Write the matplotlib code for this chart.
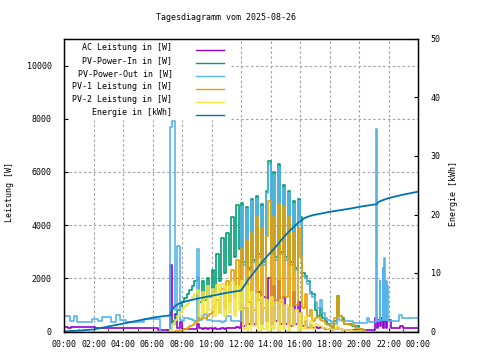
import numpy as np
import matplotlib
matplotlib.use("Agg")
import matplotlib.pyplot as plt

plt.rcParams['font.family'] = ['DejaVu Sans Mono']
FS = 6

# --- Zeitraster tagsueber: 07:00 .. 19:00 alle 10 Minuten (73 Punkte)
t_day = np.arange(7 * 6, 19 * 6 + 1) / 6.0

# AC Leistung [W]
ac_night_t = [0, 0.3, 0.5, 2.1, 2.3, 4.2, 4.4, 6.4]
ac_night = [170, 120, 160, 120, 150, 120, 130, 50]
ac_day = [50, 2500, 300, 650, 150, 350,
          100, 80, 90, 100, 90, 110,
          300, 120, 100, 130, 110, 120,
          100, 120, 110, 100, 120, 110,
          130, 120, 150, 130, 160, 140,
          1000, 200, 900, 300, 1100, 300,
          1200, 1500, 300, 1300, 400, 2000,
          300, 1700, 400, 1900, 300, 1300,
          300, 900, 200, 1500, 300, 1100,
          700, 200, 400, 150, 250, 150,
          180, 150, 160, 120, 100, 90,
          80, 70, 90, 150, 80, 70,
          60]
ac_eve_t = [19.5, 20.5, 21.1, 21.2, 21.3, 21.4, 21.5, 21.6, 21.7, 21.8, 21.9,
            22.2, 22.8, 23.0, 24.0]
ac_eve = [60, 70, 500, 150, 450, 200, 500, 150, 400, 120, 450, 150, 200, 140, 140]

# PV-Power-In [W]
pin_night_t = [0, 6.9]
pin_night = [0, 0]
pin_day = [0, 100, 400, 600, 800, 950,
           1100, 1250, 1400, 1550, 1700, 1900,
           2050, 1100, 1900, 1200, 2000, 1300,
           2300, 1500, 2900, 1900, 3500, 2200,
           3700, 2500, 4300, 2800, 4750, 3100,
           4850, 2600, 4700, 2400, 5000, 2700,
           5100, 2900, 4800, 2600, 5300, 6400,
           3000, 6000, 2800, 6300, 3000, 5500,
           2800, 5300, 2600, 4900, 2400, 5000,
           4300, 2200, 2100, 1900, 1500, 1400,
           800, 600, 900, 500, 400, 300,
           200, 120, 400, 1320, 600, 520,
           300]
pin_eve_t = [19.5, 20.0, 20.3, 20.4, 24.0]
pin_eve = [200, 100, 30, 0, 0]

# PV-Power-Out [W]
pout_night_t = [0, 0.4, 0.7, 0.9, 1.7, 1.9, 2.3, 2.6, 3.2, 3.5, 3.8, 4.2, 5.4, 6.5]
pout_night = [600, 380, 580, 350, 350, 480, 380, 560, 360, 620, 420, 350, 470, 0]
pout_day = [0, 7700, 7900, 800, 3200, 450,
            400, 500, 520, 480, 420, 400,
            3100, 450, 600, 650, 450, 420,
            400, 400, 380, 380, 350, 380,
            600, 600, 400, 400, 380, 380,
            4700, 2500, 4600, 2300, 4900, 2600,
            5000, 2800, 4700, 2500, 5200, 6300,
            2900, 5900, 2700, 6200, 2900, 5400,
            2700, 5200, 2500, 4800, 2300, 4900,
            4200, 2100, 2000, 1800, 1400, 1300,
            1100, 900, 1200, 700, 500, 420,
            380, 300, 290, 500, 420, 400,
            400]
pout_eve_t = [19.4, 19.6, 20.55, 20.7, 21.10, 21.17, 21.23, 21.40, 21.45, 21.60,
              21.63, 21.68, 21.73, 21.83, 21.88, 21.93, 21.98, 22.7, 22.9, 23.1, 24.0]
pout_eve = [400, 330, 520, 340, 350, 7600, 400, 1900, 450, 2400,
            450, 2750, 450, 1900, 450, 1700, 400, 630, 520, 490, 490]

# PV-1 Leistung [W]
pv1_night_t = [0, 6.9]
pv1_night = [0, 0]
pv1_day = [0, 0, 0, 10, 20, 40,
           60, 100, 150, 200, 260, 320,
           400, 470, 500, 520, 580, 650,
           750, 950, 1200, 700, 1600, 900,
           1900, 1100, 2300, 1300, 2700, 1500,
           3100, 900, 3400, 1100, 3700, 800,
           4300, 1200, 3900, 900, 3600, 4900,
           1000, 4300, 1200, 4800, 1100, 4700,
           1300, 4300, 900, 3700, 1000, 3900,
           2800, 900, 1400, 600, 800, 400,
           500, 550, 420, 380, 300, 250,
           200, 160, 500, 1290, 600, 400,
           300]
pv1_eve_t = [19.3, 19.7, 20.0, 20.3, 20.4, 24.0]
pv1_eve = [250, 150, 80, 50, 0, 0]

# PV-2 Leistung [W]
pv2_night_t = [0, 6.9]
pv2_night = [0, 0]
pv2_day = [0, 50, 300, 450, 600, 750,
           850, 950, 1050, 1200, 1300, 1400,
           1550, 600, 1500, 700, 1700, 800,
           1600, 600, 1750, 700, 1800, 600,
           1700, 700, 1850, 600, 1700, 800,
           1900, 100, 1700, 0, 1500, 200,
           1400, 0, 1300, 100, 1200, 0,
           1300, 100, 1100, 0, 1200, 100,
           1000, 0, 900, 200, 800, 0,
           700, 100, 600, 100, 400, 100,
           300, 250, 200, 150, 120, 100,
           80, 70, 80, 200, 100, 60,
           40]
pv2_eve_t = [19.5, 20.0, 20.2, 24.0]
pv2_eve = [30, 20, 0, 0]

# Energie [kWh]
en_t = [0, 0.5, 1, 1.5, 2, 2.5, 3, 3.5, 4, 4.5, 5, 5.5, 6, 6.5, 7, 7.2, 7.3, 7.5,
        7.75, 8, 8.5, 9, 9.5, 10, 10.5, 11, 11.5, 12, 12.25, 12.5, 12.75, 13,
        13.25, 13.5, 13.75, 14, 14.25, 14.5, 14.75, 15, 15.25, 15.5, 15.75, 16,
        16.25, 16.5, 16.75, 17, 17.5, 18, 18.5, 19, 19.5, 20, 20.5, 21, 21.2,
        21.3, 21.5, 22, 22.5, 23, 23.5, 24]
en_v = [0.0, 0.1, 0.15, 0.25, 0.35, 0.6, 0.85, 1.1, 1.35, 1.6, 1.85, 2.1, 2.35,
        2.55, 2.7, 2.75, 3.6, 4.3, 4.7, 5.0, 5.3, 5.6, 5.85, 6.1, 6.35, 6.6,
        6.8, 7.0, 7.9, 8.9, 9.7, 10.5, 11.3, 12.1, 12.8, 13.5, 14.2, 14.9,
        15.7, 16.4, 17.1, 17.7, 18.3, 18.8, 19.3, 19.6, 19.8, 19.95, 20.2,
        20.45, 20.65, 20.85, 21.05, 21.3, 21.5, 21.7, 21.75, 22.1, 22.35, 22.8,
        23.1, 23.4, 23.65, 23.9]

labels = ["AC Leistung in [W]", "PV-Power-In in [W]", "PV-Power-Out in [W]",
          "PV-1 Leistung in [W]", "PV-2 Leistung in [W]", "Energie in [kWh]"]
colors = ["#9400d3", "#009e73", "#56b4e9", "#e69f00", "#f0e442", "#0072b2"]
xticks = [f"{h:02d}:00" for h in range(0, 25, 2)]
xticks[-1] = "00:00"


def join(nt, nv, dv, et, ev):
    t = np.concatenate([nt, t_day, et])
    v = np.concatenate([nv, dv, ev])
    return t, v


series = [
    join(ac_night_t, ac_night, ac_day, ac_eve_t, ac_eve),
    join(pin_night_t, pin_night, pin_day, pin_eve_t, pin_eve),
    join(pout_night_t, pout_night, pout_day, pout_eve_t, pout_eve),
    join(pv1_night_t, pv1_night, pv1_day, pv1_eve_t, pv1_eve),
    join(pv2_night_t, pv2_night, pv2_day, pv2_eve_t, pv2_eve),
]

W, H = 480, 360
fig = plt.figure(figsize=(4.8, 3.6), dpi=100)
ax = fig.add_axes([64 / W, 1 - 331.5 / H, 354 / W, 292.5 / H])

for (t, v), c in zip(series, colors[:5]):
    ax.plot(t, v, color=c, lw=1.2, drawstyle='steps-post', zorder=2)

ax.set_xlim(0, 24)
ax.set_ylim(0, 11000)

# Gitter von Hand, damit der Legendenbereich oben links frei bleibt
leg_right = 11.32      # Stunden
leg_bottom = 7950      # W
grid_kw = dict(color='#a0a0a0', lw=0.8, linestyle=(0, (2.2, 2.2)), zorder=1.5)
for h in range(2, 24, 2):
    top = leg_bottom if h < leg_right else 11000
    ax.plot([h, h], [0, top], **grid_kw)
for w in range(2000, 10001, 2000):
    left = leg_right if w > leg_bottom else 0
    ax.plot([left, 24], [w, w], **grid_kw)

ax.set_xticks(range(0, 25, 2))
ax.set_xticks(range(1, 24, 2), minor=True)
ax.set_xticklabels(xticks, fontsize=FS)
ax.set_yticks(range(0, 10001, 2000))
ax.set_yticklabels([str(v) for v in range(0, 10001, 2000)], fontsize=FS)
ax.tick_params(axis='both', which='major', direction='in', length=3, width=0.8)
ax.tick_params(axis='x', which='minor', direction='in', length=2, width=0.8)
ax.tick_params(axis='x', pad=6)
ax.tick_params(axis='y', pad=9)
for s in ax.spines.values():
    s.set_linewidth(0.9)

ax2 = ax.twinx()
ax2.plot(en_t, en_v, color=colors[5], lw=1.3)
ax2.set_ylim(0, 50)
ax2.set_yticks(range(0, 51, 10))
ax2.set_yticklabels([str(v) for v in range(0, 51, 10)], fontsize=FS)
ax2.tick_params(axis='y', direction='in', length=3, width=0.8, pad=9)
for s in ax2.spines.values():
    s.set_linewidth(0.9)

fig.text(226.5 / W, 1 - 18 / H, "Tagesdiagramm vom 2025-08-26", fontsize=FS,
         ha='center', va='center')
fig.text(10 / W, 1 - 192 / H, "Leistung [W]", fontsize=FS, rotation=90,
         ha='center', va='center')
fig.text(453 / W, 1 - 194 / H, "Energie [kWh]", fontsize=FS, rotation=90,
         ha='center', va='center')

# Legende ohne Rahmen: Text rechtsbuendig, Linienmuster rechts daneben
for i, (lab, c) in enumerate(zip(labels, colors)):
    y = 47.5 + 13 * i
    fig.text(172.5 / W, 1 - y / H, lab, fontsize=FS, ha='right', va='center')
    fig.lines.append(plt.Line2D([196 / W, 224 / W], [1 - (y + 2) / H] * 2,
                                transform=fig.transFigure, figure=fig,
                                color=c, lw=1.0))

fig.savefig("out.png", dpi=100)
